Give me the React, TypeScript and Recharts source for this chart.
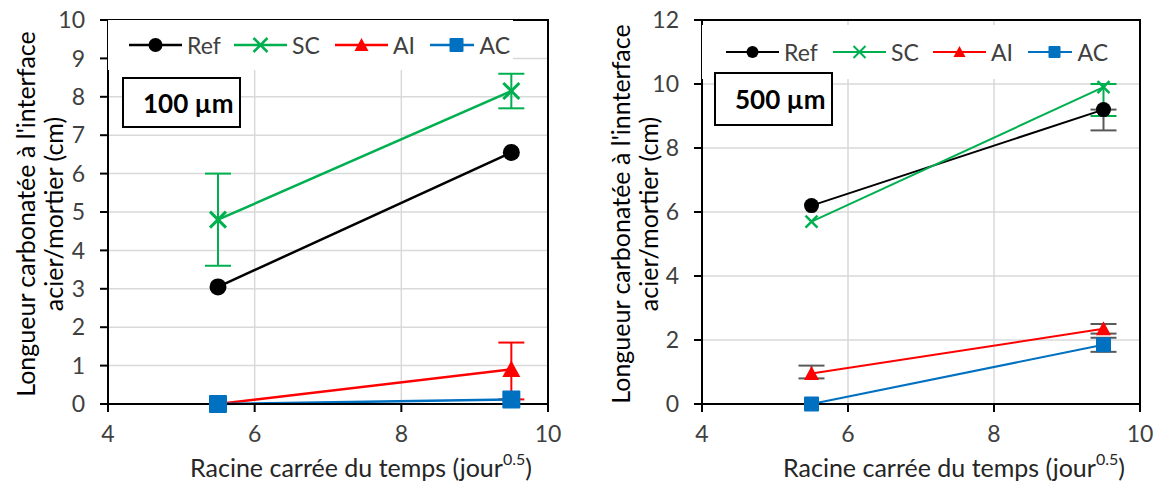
import {
  ComposedChart,
  Line,
  XAxis,
  YAxis,
  CartesianGrid,
  ErrorBar,
  Legend,
  ReferenceArea
} from 'recharts'

const FONT = 'Lato, "Open Sans", sans-serif'

// shared x positions (racine carrée du temps)
const TIMES = [5.5, 9.5]
const X_TICKS = [4, 6, 8, 10]

// 100 µm
const REF_100 = [3.05, 6.55]
const SC_100 = [4.8, 8.15]
const SC_100_ERR = [1.2, 0.45]
const AI_100 = [0, 0.9]
const AI_100_ERR = [null, [0.78, 0.7]]
const AC_100 = [0, 0.12]
const Y_TICKS_100 = [0, 1, 2, 3, 4, 5, 6, 7, 8, 9, 10]

// 500 µm
const REF_500 = [6.2, 9.2]
const REF_500_ERR = [null, [0.65, 0]]
const SC_500 = [5.7, 9.9]
const SC_500_ERR = [null, [0.9, 0.1]]
const AI_500 = [0.95, 2.35]
const AI_500_ERR = [[0.15, 0.25], 0.15]
const AC_500 = [0, 1.85]
const AC_500_ERR = [null, 0.22]
const Y_TICKS_500 = [0, 2, 4, 6, 8, 10, 12]

const COLORS: Record<string, string> = {
  ref: '#000000',
  sc: '#00B050',
  ai: '#FF0000',
  ac: '#0070C0',
}
const GRAY = '#595959'

const SERIES = [
  { key: 'ref', name: 'Ref', kind: 'circle' },
  { key: 'sc', name: 'SC', kind: 'x' },
  { key: 'ai', name: 'AI', kind: 'triangle' },
  { key: 'ac', name: 'AC', kind: 'square' },
]

function buildRows(vals: Record<string, number[]>, errs: Record<string, any[]>) {
  return TIMES.map((t, i) => {
    const row: any = { t }
    Object.keys(vals).forEach((k) => (row[k] = vals[k][i]))
    Object.keys(errs).forEach((k) => (row[k + 'Err'] = errs[k][i]))
    return row
  })
}

const rows100 = buildRows(
  { ref: REF_100, sc: SC_100, ai: AI_100, ac: AC_100 },
  { sc: SC_100_ERR, ai: AI_100_ERR }
)
const rows500 = buildRows(
  { ref: REF_500, sc: SC_500, ai: AI_500, ac: AC_500 },
  { ref: REF_500_ERR, sc: SC_500_ERR, ai: AI_500_ERR, ac: AC_500_ERR }
)

function Marker({ kind, cx, cy, s, color, sw = 2.5 }: any) {
  const h = s / 2
  if (kind === 'circle') return <circle cx={cx} cy={cy} r={h} fill={color} />
  if (kind === 'x')
    return (
      <g stroke={color} strokeWidth={sw}>
        <line x1={cx - h} y1={cy - h} x2={cx + h} y2={cy + h} />
        <line x1={cx - h} y1={cy + h} x2={cx + h} y2={cy - h} />
      </g>
    )
  if (kind === 'triangle')
    return <polygon points={`${cx},${cy - h} ${cx + h},${cy + h * 0.85} ${cx - h},${cy + h * 0.85}`} fill={color} />
  return <rect x={cx - h} y={cy - h} width={s} height={s} fill={color} rx={1} />
}

type PanelProps = {
  rows: any[]
  yMax: number
  yTicks: number[]
  width: number
  yAxisWidth: number
  marginRight: number
  titleLines: string[]
  titleX: number[]
  boxLabel: string
  box: { left: number; top: number; width: number; height: number }
  legend: { top: number; height: number; width: number; padLeft: number; itemWidths: number[]; marker: number }
  markerSize: Record<string, number>
  lineWidth: number
  errColors: Record<string, string>
}

function Panel(p: PanelProps) {
  const yTitle = (props: any) => {
    const vb = props.viewBox
    const cy = vb.y + vb.height / 2 + 2
    return (
      <g>
        {p.titleLines.map((line, i) => (
          <text
            key={i}
            x={p.titleX[i]}
            y={cy}
            transform={`rotate(-90 ${p.titleX[i]} ${cy})`}
            textAnchor="middle"
            dominantBaseline="central"
            fontSize={25}
            fontFamily={FONT}
            fill="#000"
          >
            {line}
          </text>
        ))}
      </g>
    )
  }

  const xTitle = (props: any) => {
    const vb = props.viewBox
    const cx = vb.x + vb.width / 2 + 33
    return (
      <text x={cx} y={vb.y + 63} textAnchor="middle" dominantBaseline="central" fontSize={25} fontFamily={FONT} fill="#262626">
        <tspan>Racine carrée du temps (jour</tspan>
        <tspan dy={-9} fontSize={16}>0.5</tspan>
        <tspan dy={9}>)</tspan>
      </text>
    )
  }

  return (
    <div style={{ position: 'relative', width: p.width, height: 483 }}>
      <ComposedChart
        width={p.width}
        height={483}
        data={p.rows}
        margin={{ top: 20, right: p.marginRight, left: 0, bottom: 8 }}
      >
        <CartesianGrid stroke="#d9d9d9" strokeWidth={1.5} />
        <XAxis
          type="number"
          dataKey="t"
          domain={[4, 10]}
          ticks={X_TICKS}
          height={71}
          tickSize={8}
          tickMargin={14}
          axisLine={{ stroke: '#000', strokeWidth: 2 }}
          tickLine={{ stroke: '#000', strokeWidth: 2 }}
          tick={{ fontSize: 23, fill: '#404040', fontFamily: FONT }}
          label={{ content: xTitle }}
        />
        <YAxis
          type="number"
          domain={[0, p.yMax]}
          ticks={p.yTicks}
          interval={0}
          width={p.yAxisWidth}
          tickSize={8}
          tickMargin={15}
          axisLine={{ stroke: '#000', strokeWidth: 2 }}
          tickLine={{ stroke: '#000', strokeWidth: 2 }}
          tick={{ fontSize: 23, fill: '#404040', fontFamily: FONT }}
          label={{ content: yTitle }}
        />
        <ReferenceArea x1={4} x2={10} y1={0} y2={p.yMax} fill="none" fillOpacity={0} stroke="#000" strokeWidth={2} />
        <Legend
          align="center"
          verticalAlign="middle"
          layout="horizontal"
          wrapperStyle={{
            left: p.yAxisWidth,
            top: p.legend.top,
            width: p.legend.width,
            height: p.legend.height,
            backgroundColor: '#fff',
          }}
          content={(props: any) => (
            <div
              style={{
                display: 'flex',
                alignItems: 'center',
                height: p.legend.height,
                paddingLeft: p.legend.padLeft,
                fontFamily: FONT,
                fontSize: 23,
                color: '#404040',
              }}
            >
              {SERIES.map((s, i) => {
                const entry = props.payload.find((e: any) => e.dataKey === s.key)
                if (!entry) return null
                return (
                  <div key={s.key} style={{ display: 'flex', alignItems: 'center', width: p.legend.itemWidths[i], flex: 'none' }}>
                    <svg width={53} height={22} style={{ display: 'block' }}>
                      <line x1={0} y1={11} x2={53} y2={11} stroke={entry.color} strokeWidth={p.lineWidth} />
                      <Marker kind={s.kind} cx={26.5} cy={11} s={p.legend.marker} color={entry.color} sw={p.lineWidth} />
                    </svg>
                    <span style={{ marginLeft: 5 }}>{entry.value}</span>
                  </div>
                )
              })}
            </div>
          )}
        />
        {SERIES.map((s) => (
          <Line
            key={s.key}
            dataKey={s.key}
            name={s.name}
            type="linear"
            stroke={COLORS[s.key]}
            strokeWidth={p.lineWidth}
            isAnimationActive={false}
            activeDot={false}
            dot={(d: any) => (
              <Marker
                key={`${s.key}-${d.index}`}
                kind={s.kind}
                cx={d.cx}
                cy={d.cy}
                s={p.markerSize[s.key]}
                color={COLORS[s.key]}
                sw={p.lineWidth + 0.5}
              />
            )}
          >
            {p.errColors[s.key] && (
              <ErrorBar
                dataKey={s.key + 'Err'}
                direction="y"
                width={13}
                strokeWidth={2}
                stroke={p.errColors[s.key]}
                zIndex={350}
              />
            )}
          </Line>
        ))}
      </ComposedChart>
      <div
        style={{
          position: 'absolute',
          left: p.box.left,
          top: p.box.top,
          width: p.box.width,
          height: p.box.height,
          boxSizing: 'border-box',
          border: '2px solid #000',
          background: '#fff',
          display: 'flex',
          alignItems: 'center',
          paddingLeft: 19,
          fontFamily: FONT,
          fontWeight: 700,
          fontSize: 26,
          color: '#000',
        }}
      >
        {p.boxLabel}
      </div>
    </div>
  )
}

export default function App() {
  return (
    <div style={{ position: 'absolute', left: 0, top: 0, width: 1163, height: 483, background: '#fff', display: 'flex' }}>
      <Panel
        rows={rows100}
        yMax={10}
        yTicks={Y_TICKS_100}
        width={580}
        yAxisWidth={108}
        marginRight={32}
        titleLines={["Longueur carbonatée à l'interface", 'acier/mortier (cm)']}
        titleX={[25, 53]}
        boxLabel="100 µm"
        box={{ left: 122, top: 77, width: 119, height: 51 }}
        legend={{ top: 20, height: 50, width: 405, padLeft: 21, itemWidths: [105, 101, 95, 80], marker: 14 }}
        markerSize={{ ref: 17, sc: 16, ai: 18, ac: 18 }}
        lineWidth={2.5}
        errColors={{ sc: COLORS.sc, ai: COLORS.ai }}
      />
      <Panel
        rows={rows500}
        yMax={12}
        yTicks={Y_TICKS_500}
        width={583}
        yAxisWidth={122}
        marginRight={23}
        titleLines={["Longueur carbonatée à l'innterface", 'acier/mortier (cm)']}
        titleX={[40, 68]}
        boxLabel="500 µm"
        box={{ left: 134, top: 72, width: 119, height: 54 }}
        legend={{ top: 25, height: 54, width: 430, padLeft: 24, itemWidths: [107, 100, 95, 80], marker: 12 }}
        markerSize={{ ref: 15, sc: 12, ai: 15, ac: 15 }}
        lineWidth={2}
        errColors={{ ref: GRAY, sc: COLORS.sc, ai: GRAY, ac: GRAY }}
      />
    </div>
  )
}
